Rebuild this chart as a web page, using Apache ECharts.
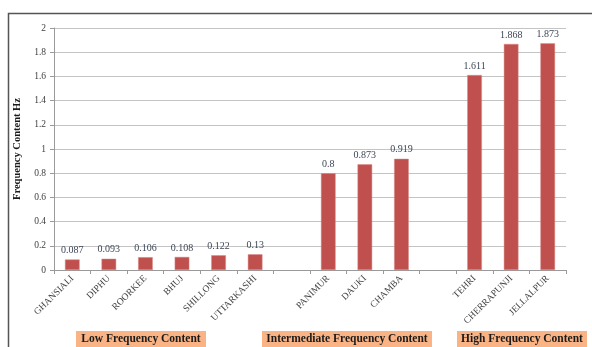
<!DOCTYPE html>
<html>
<head>
<meta charset="utf-8">
<script src="https://cdn.jsdelivr.net/npm/echarts@6/dist/echarts.min.js"></script>
<style>
  html, body { margin: 0; padding: 0; background: #ffffff; }
  #chart { width: 592px; height: 347px; }
</style>
</head>
<body>
<div id="chart"></div>
<script>
// Stations, grouped by frequency content; empty names leave gaps between groups
const stations = ['GHANSIALI', 'DIPHU', 'ROORKEE', 'BHUJ', 'SHILLONG', 'UTTARKASHI', '',
                  'PANIMUR', 'DAUKI', 'CHAMBA', '',
                  'TEHRI', 'CHERRAPUNJI', 'JELLALPUR'];
// Frequency content in Hz (null for the gap slots)
const frequencyHz = [0.087, 0.093, 0.106, 0.108, 0.122, 0.13, null,
                     0.8, 0.873, 0.919, null,
                     1.611, 1.868, 1.873];
// Group captions shown under the axis
const groupNames = ['Low Frequency Content', 'Intermediate Frequency Content', 'High Frequency Content'];

const serif = '"Liberation Serif", "DejaVu Serif", serif';
const chart = echarts.init(document.getElementById('chart'));

function groupBox(x, w, text) {
  return {
    type: 'group',
    left: x, top: 331,
    children: [
      { type: 'rect', shape: { x: 0, y: 0, width: w, height: 17 },
        style: { fill: '#F9B384' } },
      { type: 'text', x: w / 2, y: 8.5,
        style: { text: text, fill: '#1a1a1a', font: 'bold 11.5px ' + serif,
                 align: 'center', verticalAlign: 'middle' } }
    ]
  };
}

chart.setOption({
  animation: false,
  backgroundColor: '#ffffff',
  grid: { left: 54, right: 26, top: 28, bottom: 77 },
  xAxis: {
    type: 'category',
    data: stations,
    boundaryGap: true,
    axisLine: { lineStyle: { color: '#9a9a9a', width: 1 } },
    axisTick: { show: true, length: 4, lineStyle: { color: '#9a9a9a' } },
    axisLabel: {
      interval: 0, rotate: 45, margin: 7,
      fontFamily: serif, fontSize: 9.5, color: '#404040'
    }
  },
  yAxis: {
    type: 'value',
    min: 0, max: 2, interval: 0.2,
    name: 'Frequency Content Hz',
    nameLocation: 'middle',
    nameRotate: 90,
    nameGap: 26,
    nameTextStyle: { fontFamily: serif, fontSize: 10.5, fontWeight: 'bold', color: '#1a1a1a' },
    axisLine: { show: true, lineStyle: { color: '#9a9a9a', width: 1 } },
    axisTick: { show: true, length: 4, lineStyle: { color: '#9a9a9a' } },
    axisLabel: { fontFamily: serif, fontSize: 9.5, color: '#404040', margin: 8 },
    splitLine: { lineStyle: { color: '#c4c4c4', width: 1 } }
  },
  series: [{
    type: 'bar',
    data: frequencyHz,
    barWidth: '40%',
    itemStyle: { color: '#C0504D', borderColor: '#d98a88', borderWidth: 0.5 },
    label: {
      show: true, position: 'top', distance: 4,
      fontFamily: serif, fontSize: 10, color: '#3d4656'
    }
  }],
  graphic: [
    { type: 'rect', left: 6, top: 11, shape: { x: 0, y: 0, width: 620, height: 400 },
      style: { fill: 'none', stroke: '#555555', lineWidth: 1.5 }, silent: true },
    groupBox(76, 130, groupNames[0]),
    groupBox(262, 170, groupNames[1]),
    groupBox(457, 130, groupNames[2])
  ]
});
</script>
</body>
</html>
